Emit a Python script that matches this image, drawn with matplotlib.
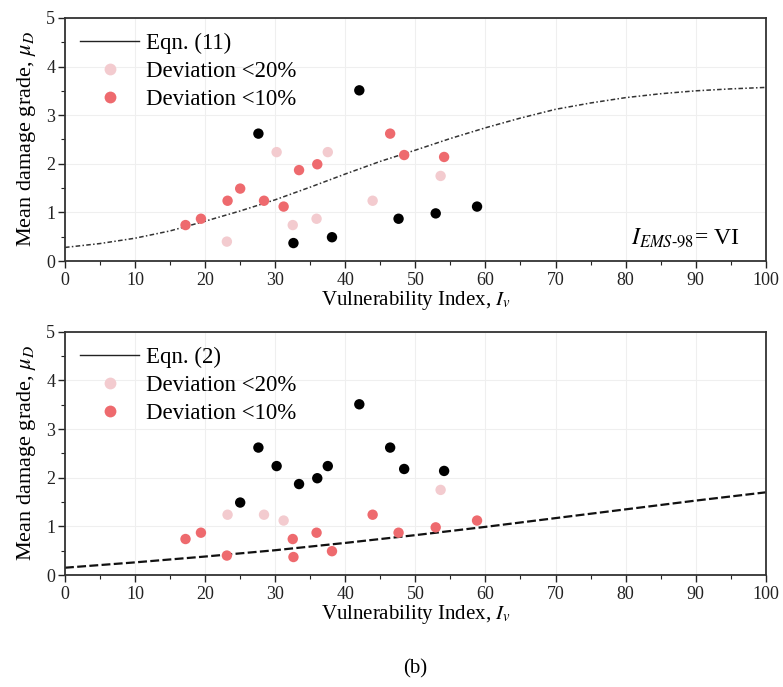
import matplotlib
matplotlib.use("Agg")
import matplotlib.pyplot as plt
from matplotlib.lines import Line2D
from matplotlib.ticker import MultipleLocator

plt.rcParams['font.family'] = ['Liberation Serif', 'DejaVu Serif']
plt.rcParams['mathtext.fontset'] = 'stix'

# ---- data ----
iv = [27.6, 42.0, 32.6, 38.1, 47.6, 52.9, 58.8, 30.2, 37.5, 43.9, 32.5, 35.9, 23.1,
      53.6, 17.2, 19.4, 23.2, 25.0, 28.4, 31.2, 33.4, 36.0, 46.4, 48.4, 54.1]
mu = [2.62, 3.51, 0.37, 0.49, 0.87, 0.98, 1.12, 2.24, 2.24, 1.24, 0.74, 0.87, 0.40,
      1.75, 0.74, 0.87, 1.24, 1.49, 1.24, 1.12, 1.87, 1.99, 2.62, 2.18, 2.14]
cat_top = ['out'] * 7 + ['d20'] * 7 + ['d10'] * 11
cat_bot = ['out', 'out', 'd10', 'd10', 'd10', 'd10', 'd10', 'out', 'out', 'd10', 'd10',
           'd10', 'd10', 'd20', 'd10', 'd10', 'd20', 'out', 'd20', 'd20', 'out', 'out',
           'out', 'out', 'out']

curve_x = [0, 5, 10, 15, 20, 25, 30, 35, 40, 45, 50, 55, 60, 65, 70, 75, 80, 85, 90, 95, 100]
eqn11_y = [0.28, 0.36, 0.47, 0.62, 0.82, 1.03, 1.26, 1.52, 1.79, 2.05, 2.28, 2.52, 2.74,
           2.94, 3.12, 3.25, 3.36, 3.44, 3.50, 3.54, 3.57]
line_x = [0, 10, 20, 30, 40, 50, 60, 70, 80, 90, 100]
eqn2_y = [0.15, 0.26, 0.38, 0.51, 0.66, 0.82, 0.99, 1.17, 1.35, 1.53, 1.70]

colors = {'out': '#000000', 'd20': '#f3cbcf', 'd10': '#ee6a6e'}

fig = plt.figure(figsize=(7.83, 6.87), dpi=100)
ax1 = fig.add_axes([0.083, 0.620, 0.895, 0.354])
ax2 = fig.add_axes([0.083, 0.163, 0.895, 0.354])


def style(ax):
    ax.set_xlim(0, 100)
    ax.set_ylim(0, 5)
    ax.xaxis.set_major_locator(MultipleLocator(10))
    ax.xaxis.set_minor_locator(MultipleLocator(5))
    ax.yaxis.set_major_locator(MultipleLocator(1))
    ax.yaxis.set_minor_locator(MultipleLocator(0.5))
    ax.tick_params(which='major', direction='out', length=5, width=1, labelsize=13,
                   colors='#222222')
    ax.tick_params(which='minor', direction='out', length=3, width=0.8, colors='#222222')
    ax.tick_params(axis='x', pad=3)
    ax.tick_params(axis='y', pad=2)
    for s in ax.spines.values():
        s.set_linewidth(1.3)
        s.set_color('#333333')
    ax.grid(True, which='major', color='#efefef', linewidth=0.8)
    ax.set_axisbelow(True)
    ax.set_xlabel(r'Vulnerability Index, $I_v$', fontsize=15, labelpad=0)
    ax.set_ylabel(r'Mean damage grade, $\mu_D$', fontsize=16, labelpad=6)


def scatter(ax, cats):
    for c in ['out', 'd20', 'd10']:
        xs = [x for x, k in zip(iv, cats) if k == c]
        ys = [y for y, k in zip(mu, cats) if k == c]
        ax.scatter(xs, ys, s=56, color=colors[c], edgecolors='none', zorder=3)


def legend(ax, label):
    handles = [Line2D([], [], color='#222222', lw=1.0),
               Line2D([], [], ls='none', marker='o', ms=8.5, color=colors['d20'], mec='none'),
               Line2D([], [], ls='none', marker='o', ms=8.5, color=colors['d10'], mec='none')]
    ax.legend(handles, [label, 'Deviation <20%', 'Deviation <10%'], loc='upper left',
              frameon=False, fontsize=16.5, handlelength=2.6, handletextpad=0.3,
              labelspacing=0.3, borderpad=0.15, borderaxespad=0.5)


style(ax1)
ax1.plot(curve_x, eqn11_y, color='#333333', lw=1.1, ls=(0, (3, 1.5, 1, 1.5)), zorder=2)
scatter(ax1, cat_top)
legend(ax1, 'Eqn. (11)')
ax1.text(88.5, 0.48, r'$I_{EMS\text{-}98}$= VI', fontsize=17, ha='center', va='center')

style(ax2)
ax2.plot(line_x, eqn2_y, color='#111111', lw=1.6, ls=(0, (4, 1.5)), zorder=2)
scatter(ax2, cat_bot)
legend(ax2, 'Eqn. (2)')

fig.text(0.53, 0.026, '(b)', fontsize=15, ha='center', va='center')

fig.savefig('out.png', dpi=100)
